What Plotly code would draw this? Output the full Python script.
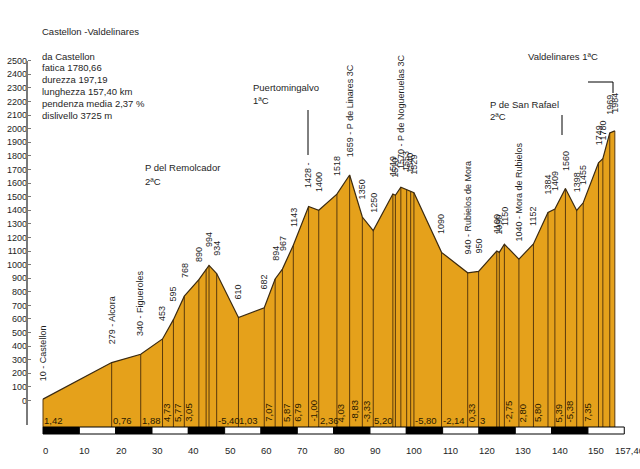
import plotly.graph_objects as go

# ---------------- data ----------------
km = [0.0, 18.9, 26.9, 32.9, 35.9, 38.9, 42.9, 44.9, 45.7, 47.8, 53.8, 60.9, 63.9, 65.9,
      68.9, 73.1, 75.9, 80.9, 84.4, 87.9, 90.9, 96.3, 97.0, 98.5, 100.1, 101.2, 102.1,
      109.7, 116.9, 119.9, 124.9, 125.6, 127.0, 131.0, 135.0, 139.0, 140.9, 143.8,
      146.9, 148.7, 152.9, 154.1, 156.0, 157.4]
elev = [10, 279, 340, 453, 595, 768, 890, 965, 994, 934, 610, 682, 894, 967,
        1143, 1428, 1400, 1518, 1659, 1350, 1250, 1519, 1510, 1570, 1553, 1540, 1529,
        1090, 940, 950, 1100, 1090, 1150, 1040, 1152, 1384, 1409, 1560,
        1398, 1455, 1749, 1780, 1969, 1984]
point_labels = ["10 - Castellon", "279 - Alcora", "340 - Figueroles", "453", "595", "768",
                "890", "", "994", "934", "610", "682", "894", "967",
                "1143", "1428 -", "1400", "1518", "1659 - P de Linares 3C", "1350", "1250",
                "1519", "1510", "1570 - P de Nogueruelas 3C", "1553", "1540", "1529",
                "1090", "940 - Rubielos de Mora", "950", "1100", "1090", "1150",
                "1040 - Mora de Rubielos", "1152", "1384", "1409", "1560",
                "1398", "1455", "1749", "1780", "1969", "1984"]

grad_km = [0.0, 18.9, 26.9, 32.9, 35.9, 38.9, 47.8, 53.8, 60.9, 65.9, 68.9, 73.1, 75.9,
           80.9, 84.4, 87.9, 90.9, 102.1, 109.7, 116.9, 119.9, 127.0, 131.0, 135.0,
           140.9, 143.8, 148.7]
grad_text = ["1,42", "0,76", "1,88", "4,73", "5,77", "3,05", "-5,40", "1,03", "7,07", "5,87",
             "6,79", "-1,00", "2,36", "4,03", "-8,83", "-3,33", "5,20", "-5,80", "-2,14",
             "0,33", "3", "-2,75", "2,80", "5,80", "5,39", "-5,38", "7,35"]
grad_rotated = [False, False, False, True, True, True, False, False, True, True,
                True, True, False, True, True, True, False, False, False,
                True, False, True, True, True, True, True, True]

x_ticks = [0, 10, 20, 30, 40, 50, 60, 70, 80, 90, 100, 110, 120, 130, 140, 150, 157.4]
x_tick_text = ["0", "10", "20", "30", "40", "50", "60", "70", "80", "90", "100", "110",
               "120", "130", "140", "150", "157,40"]
y_ticks = list(range(0, 2600, 100))
scale_edges = [0, 10, 20, 30, 40, 50, 60, 70, 80, 90, 100, 110, 120, 130, 140, 150, 160]

title_text = "Castellon -Valdelinares"
info_lines = ["da Castellon", "fatica 1780,66", "durezza 197,19", "lunghezza 157,40 km",
              "pendenza media 2,37 %", "dislivello 3725 m"]

# ---------------- geometry helpers (pixel layout) ----------------
W, H = 640, 469
X0PX, KX = 43.0, 3.633      # px of km 0, px per km
Y0PX, KY = 400.5, 0.1359    # px of 0 m, px per m


def px2x(px):
    return (px - X0PX) / KX


def py2y(py):
    return (Y0PX - py) / KY


def pxp(px):
    return px / W


def pyp(py):
    return 1 - py / H


FONT = "Liberation Sans, Arial, sans-serif"
FILL = "#E5A11B"
EDGE = "#3B2A10"
VLINE = "#5A3A0C"
TXT = "#1e1e1e"

fill_bottom = py2y(427)
bar_top = py2y(427)
bar_bottom = py2y(434)

fig = go.Figure()

# filled profile
fig.add_trace(go.Scatter(
    x=km + [km[-1], km[0]], y=elev + [fill_bottom, fill_bottom],
    fill="toself", fillcolor=FILL, mode="lines", line=dict(width=0),
    hoverinfo="skip", showlegend=False))

# vertical lines at each waypoint
vx, vy = [], []
for k, e in zip(km, elev):
    vx += [k, k, None]
    vy += [e, fill_bottom, None]
fig.add_trace(go.Scatter(x=vx, y=vy, mode="lines", line=dict(color=VLINE, width=1),
                         hoverinfo="skip", showlegend=False))

# profile outline
fig.add_trace(go.Scatter(x=km, y=elev, mode="lines", line=dict(color=EDGE, width=1.2),
                         hoverinfo="skip", showlegend=False))

shapes = []
# km scale bar
for i in range(len(scale_edges) - 1):
    shapes.append(dict(type="rect", xref="x", yref="y",
                       x0=scale_edges[i], x1=scale_edges[i + 1], y0=bar_bottom, y1=bar_top,
                       fillcolor="black" if i % 2 == 0 else "white",
                       line=dict(color="black", width=1), layer="above"))
# y axis line
shapes.append(dict(type="line", xref="paper", yref="y", x0=pxp(27), x1=pxp(27),
                   y0=py2y(425), y1=py2y(61), line=dict(color="#7a7a7a", width=2)))
# climb marker lines
shapes.append(dict(type="line", xref="x", yref="y", x0=px2x(308), x1=px2x(308),
                   y0=py2y(155), y1=py2y(110), line=dict(color="black", width=1)))
shapes.append(dict(type="line", xref="x", yref="y", x0=px2x(562), x1=px2x(562),
                   y0=py2y(135), y1=py2y(115), line=dict(color="black", width=1)))
shapes.append(dict(type="path", xref="x", yref="y",
                   path="M {} {} L {} {} L {} {}".format(px2x(588), py2y(82), px2x(613), py2y(82),
                                                          px2x(613), py2y(93)),
                   line=dict(color="black", width=1)))

ann = []
# waypoint labels
for k, e, t in zip(km, elev, point_labels):
    if not t:
        continue
    ann.append(dict(x=k, y=e, xref="x", yref="y", text=t, textangle=-90, showarrow=False,
                    xanchor="center", yanchor="bottom", yshift=16,
                    font=dict(family=FONT, size=9, color=TXT)))
# gradient labels
for k, t, r in zip(grad_km, grad_text, grad_rotated):
    if r:
        ann.append(dict(x=k, y=py2y(424), xref="x", yref="y", text=t, textangle=-90,
                        showarrow=False, xanchor="center", yanchor="bottom", xshift=4,
                        font=dict(family=FONT, size=9.5, color="#2a1a00")))
    else:
        ann.append(dict(x=k, y=py2y(420), xref="x", yref="y", text=t, showarrow=False,
                        xanchor="left", yanchor="middle", xshift=-1,
                        font=dict(family=FONT, size=9.5, color="#2a1a00")))
# x tick labels
for v, t in zip(x_ticks, x_tick_text):
    ann.append(dict(x=v, y=py2y(450), xref="x", yref="y", text=t, showarrow=False,
                    xanchor="left", yanchor="middle", xshift=-2,
                    font=dict(family=FONT, size=9.5, color=TXT)))

# titles / info block
def label(text, px, py, size=9.5):
    ann.append(dict(x=pxp(px), y=pyp(py), xref="paper", yref="paper", text=text,
                    showarrow=False, xanchor="left", yanchor="middle",
                    font=dict(family=FONT, size=size, color=TXT)))


label(title_text, 40, 32)
for i, line in enumerate(info_lines):
    label(line, 40, 56 + i * 11.9)
label("P del Remolcador", 143, 168)
label("2ªC", 143, 181)
label("Puertomingalvo", 251, 87)
label("1ªC", 251, 100)
label("P de San Rafael", 488, 104)
label("2ªC", 488, 117)
label("Valdelinares 1ªC", 526, 57)

fig.update_layout(
    width=W, height=H, margin=dict(l=0, r=0, t=0, b=0),
    paper_bgcolor="white", plot_bgcolor="white", showlegend=False,
    xaxis=dict(range=[px2x(0), px2x(W)], showgrid=False, zeroline=False, showline=False,
               showticklabels=False, ticks=""),
    yaxis=dict(range=[py2y(H), py2y(0)], anchor="free", position=pxp(27), side="left",
               tickvals=y_ticks, ticktext=[str(v) for v in y_ticks],
               ticks="inside", ticklen=3, tickcolor="#7a7a7a", tickwidth=1,
               showgrid=False, zeroline=False, showline=False,
               tickfont=dict(family=FONT, size=9, color=TXT)),
    shapes=shapes, annotations=ann,
)

fig.write_html("out.html")
